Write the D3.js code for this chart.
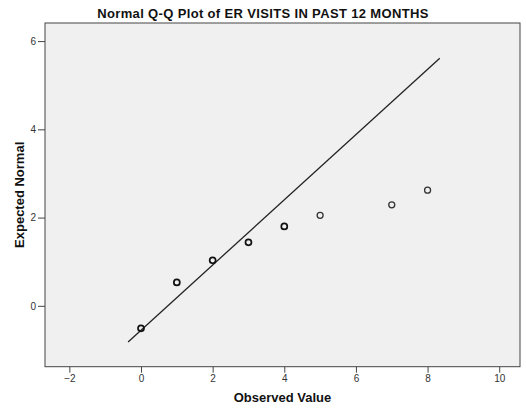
<!DOCTYPE html>
<html><head><meta charset="utf-8">
<script src="https://cdn.jsdelivr.net/npm/d3@7"></script>
<style>body{margin:0;background:#fff}svg{display:block}</style>
</head><body>
<script>
const title = "Normal Q-Q Plot of ER VISITS IN PAST 12 MONTHS";
const xLabel = "Observed Value";
const yLabel = "Expected Normal";
const observed = [0, 1, 2, 3, 4, 5, 7, 8];
const expected = [-0.51, 0.53, 1.03, 1.44, 1.80, 2.05, 2.29, 2.62];
const lineX = [-0.36, 8.34];
const lineY = [-0.82, 5.61];
const xTicks = [-2, 0, 2, 4, 6, 8, 10];
const yTicks = [0, 2, 4, 6];
const xDomain = [-2.68, 10.58];
const yDomain = [-1.38, 6.41];

const W = 526, H = 410;
const m = {left: 45, right: 6, top: 23, bottom: 43.3};
const svg = d3.select("body").append("svg").attr("width", W).attr("height", H)
  .style("font-family", "'Liberation Sans', Arial, sans-serif");
const x = d3.scaleLinear().domain(xDomain).range([m.left, W - m.right]);
const y = d3.scaleLinear().domain(yDomain).range([H - m.bottom, m.top]);

svg.append("rect").attr("x", m.left).attr("y", m.top)
  .attr("width", W - m.left - m.right).attr("height", H - m.top - m.bottom)
  .attr("fill", "#f0f0f0").attr("stroke", "#444").attr("stroke-width", 1);

const xAxis = svg.append("g").attr("transform", `translate(0,${H - m.bottom})`)
  .call(d3.axisBottom(x).tickValues(xTicks).tickSize(6).tickPadding(2).tickFormat(d3.format("d")));
const yAxis = svg.append("g").attr("transform", `translate(${m.left},0)`)
  .call(d3.axisLeft(y).tickValues(yTicks).tickSize(7).tickPadding(2).tickFormat(d3.format("d")));
[xAxis, yAxis].forEach(g => {
  g.select(".domain").remove();
  g.selectAll(".tick line").attr("stroke", "#444");
  g.selectAll(".tick text").attr("fill", "#333").style("font-size", "10px")
    .style("font-family", "'Liberation Sans', Arial, sans-serif");
});

svg.append("line")
  .attr("x1", x(lineX[0])).attr("y1", y(lineY[0]))
  .attr("x2", x(lineX[1])).attr("y2", y(lineY[1]))
  .attr("stroke", "#222").attr("stroke-width", 1.3);

svg.selectAll("circle.pt").data(observed.map((d, i) => [d, expected[i]]))
  .enter().append("circle").attr("class", "pt")
  .attr("cx", d => x(d[0])).attr("cy", d => y(d[1])).attr("r", 3)
  .attr("fill", "none").attr("stroke", (d, i) => i < 5 ? "#111" : "#333")
  .attr("stroke-width", (d, i) => i < 5 ? 1.7 : 1.3);

svg.append("text").attr("x", 263).attr("y", 18).attr("text-anchor", "middle")
  .style("font-size", "13px").style("font-weight", "bold").style("letter-spacing", "0.35px")
  .attr("fill", "#111").text(title);
svg.append("text").attr("x", (m.left + W - m.right) / 2).attr("y", 402).attr("text-anchor", "middle")
  .style("font-size", "13px").style("font-weight", "bold").attr("fill", "#111").text(xLabel);
svg.append("text").attr("transform", `translate(24,${(m.top + H - m.bottom) / 2}) rotate(-90)`)
  .attr("text-anchor", "middle")
  .style("font-size", "13px").style("font-weight", "bold").attr("fill", "#111").text(yLabel);
</script>
</body></html>
